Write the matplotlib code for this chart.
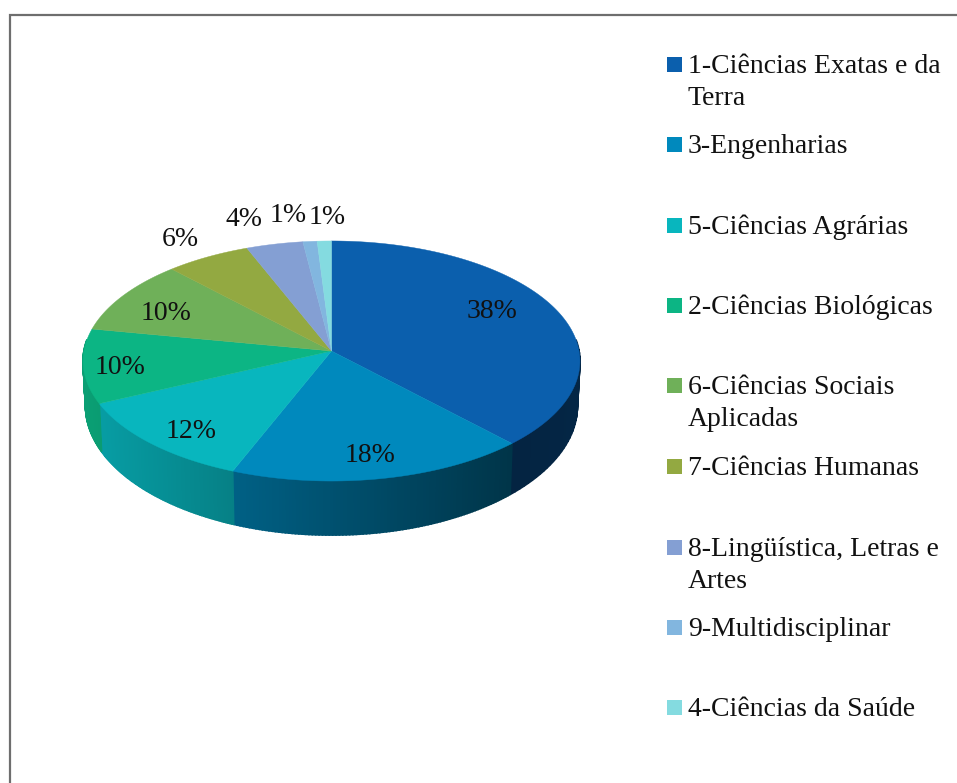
"""3D-looking pie of the areas, drawn on a pixel-sized axes."""
import matplotlib
matplotlib.use("Agg")
import matplotlib.pyplot as plt
import numpy as np

categories = [
    "1-Ciências Exatas e da\nTerra",
    "3-Engenharias",
    "5-Ciências Agrárias",
    "2-Ciências Biológicas",
    "6-Ciências Sociais\nAplicadas",
    "7-Ciências Humanas",
    "8-Lingüística, Letras e\nArtes",
    "9-Multidisciplinar",
    "4-Ciências da Saúde",
]
values = [38, 18, 12, 10, 10, 6, 4, 1, 1]
colors = ["#0B5FAD", "#0089BD", "#08B6BE", "#0CB584", "#6FB059",
          "#93A941", "#849FD3", "#82B6DF", "#84DBE0"]

# layout, in pixels of the 957x783 picture
label_xy = [(492, 311), (370, 455), (191, 432), (166, 313), (120, 368),
            (180, 240), (244, 220), (288, 215), (327, 217)]
legend_y = [64, 144, 225, 305, 385, 466, 547, 627, 707]

FONT = "Liberation Serif"
CX, CY = 331.5, 351.0
A, B, K = 247.6, 119.2, 0.0833


def project(t, r=1.0):
    """Tilted disc: t is clockwise from 12 o'clock, with some perspective."""
    x, y = r * np.sin(t), r * np.cos(t)
    w = 1 + K * y
    return CX + A * x / w, CY - B * y / w


def rim_bottom(t):
    px, py = project(t)
    y = np.cos(t)
    return CX + (px - CX) * 0.99, py + 44.3 / (1 + 0.18 * y)


def shade(x):
    return np.interp(x, [83, 236, 516, 580], [0.88, 0.70, 0.38, 0.40])


fig = plt.figure(figsize=(9.57, 7.83), dpi=100)
ax = fig.add_axes([0, 0, 1, 1])
ax.set_xlim(0, 957)
ax.set_ylim(783, 0)
ax.axis("off")

# frame: only left and top are visible in the crop
ax.plot([9.5, 9.5, 957], [783, 15, 15], color="#6E6E6E", lw=1.6, solid_joinstyle="miter")

edges = 2 * np.pi * np.cumsum([0] + values) / sum(values)

# side wall, as thin strips so it can carry the horizontal gradient
for i, col in enumerate(colors):
    base = np.array(matplotlib.colors.to_rgb(col))
    ts = np.linspace(edges[i], edges[i + 1], 90)
    for t0, t1 in zip(ts[:-1], ts[1:]):
        if np.cos((t0 + t1) / 2) > 0.1:
            continue
        x0, y0 = project(t0)
        x1, y1 = project(t1)
        x2, y2 = rim_bottom(t1)
        x3, y3 = rim_bottom(t0)
        c = base * shade((x0 + x1) / 2)
        ax.fill([x0, x1, x2, x3], [y0, y1, y2, y3], color=c, lw=1.2)

# top face
for i, col in enumerate(colors):
    ts = np.linspace(edges[i], edges[i + 1], 120)
    xs, ys = project(ts)
    ax.fill(np.r_[CX, xs], np.r_[CY, ys], color=col, lw=0.3)

for v, (x, y) in zip(values, label_xy):
    ax.text(x, y, f"{v}%", family=FONT, fontsize=20, color="#111111", ha="center", va="center")

# legend
for name, col, y in zip(categories, colors, legend_y):
    ax.fill([667, 682, 682, 667], [y - 7.5, y - 7.5, y + 7.5, y + 7.5], color=col, lw=0)
    ax.text(688, y - 10, name, family=FONT, fontsize=20, color="#111111", ha="left", va="top",
            linespacing=1.38)

fig.savefig("out.png", dpi=100)
